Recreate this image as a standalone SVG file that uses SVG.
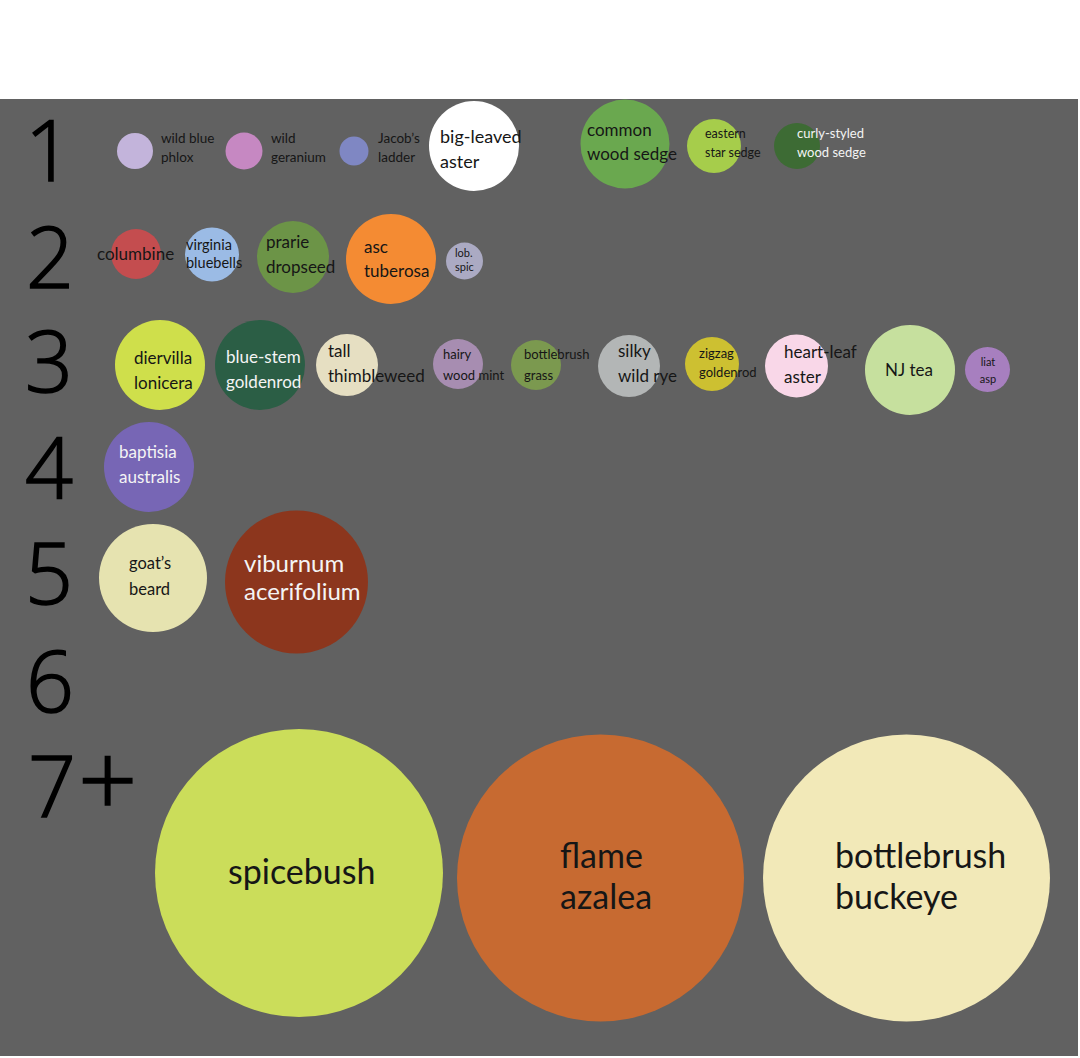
<svg xmlns="http://www.w3.org/2000/svg" width="1080" height="1058" viewBox="0 0 1080 1058">
<style>
text{font-family:Lato,"Open Sans","Liberation Sans",sans-serif;fill:#161616}
.w{fill:#f4f4f4}
.num{font-family:"Open Sans","Noto Sans","Liberation Sans",sans-serif;font-weight:300;font-size:84px;fill:#000;stroke:#000;stroke-width:1.6px;text-anchor:middle}
.s11{font-size:11px}.s12{font-size:12.5px}.s13{font-size:13px}.s135{font-size:13.5px}.s145{font-size:14.5px}
.s165{font-size:16.5px}.s17{font-size:17px}.s18{font-size:18px}.s24{font-size:24px}.s34{font-size:34px}
</style>
<rect x="0" y="0" width="1080" height="1058" fill="#ffffff"/>
<rect x="0" y="99" width="1078" height="957" fill="#616161"/>
<g id="row-labels">
<text class="num" x="49" y="181">1</text>
<text class="num" x="50" y="288">2</text>
<text class="num" x="49" y="392">3</text>
<text class="num" x="49" y="498">4</text>
<text class="num" x="49" y="604">5</text>
<text class="num" x="50" y="712">6</text>
<text class="num" x="28" y="817" style="text-anchor:start">7<tspan dx="2" font-size="104">+</tspan></text>
</g>
<g id="connectors"></g>
<!-- row 1 -->
<g id="wild-blue-phlox"><circle cx="135" cy="151" r="18" fill="#c3b4db"/><text class="s135" x="161" y="143">wild blue</text><text class="s135" x="161" y="162">phlox</text></g>
<g id="wild-geranium"><circle cx="244" cy="151" r="18.5" fill="#c688c2"/><text class="s135" x="271" y="143">wild</text><text class="s135" x="271" y="162">geranium</text></g>
<g id="jacobs-ladder"><circle cx="354" cy="151" r="14.5" fill="#7f87c3"/><text class="s135" x="378" y="143">Jacob’s</text><text class="s135" x="378" y="162">ladder</text></g>
<g id="big-leaved-aster"><circle cx="474" cy="146" r="45" fill="#ffffff"/><text class="s18" x="440" y="143">big-leaved</text><text class="s18" x="440" y="168">aster</text></g>
<g id="common-wood-sedge"><circle cx="625" cy="144" r="44.5" fill="#6aa84f"/><text class="s17" x="587" y="136">common</text><text class="s17" x="587" y="160">wood sedge</text></g>
<g id="eastern-star-sedge"><circle cx="714" cy="146" r="27" fill="#a6cd4b"/><text class="s12" x="705" y="138">eastern</text><text class="s12" x="705" y="157">star sedge</text></g>
<g id="curly-styled-wood-sedge"><circle cx="797" cy="146" r="23" fill="#3d6b34"/><text class="s13 w" x="797" y="138">curly-styled</text><text class="s13 w" x="797" y="157">wood sedge</text></g>
<!-- row 2 -->
<g id="columbine"><circle cx="136" cy="254" r="25" fill="#c44d4f"/><text class="s17" x="97" y="260">columbine</text></g>
<g id="virginia-bluebells"><circle cx="212" cy="254.5" r="27" fill="#9bbbe5"/><text class="s145" x="186" y="250">virginia</text><text class="s145" x="186" y="268">bluebells</text></g>
<g id="prarie-dropseed"><circle cx="293" cy="257" r="36" fill="#6c9447"/><text class="s17" x="266" y="248">prarie</text><text class="s17" x="266" y="273">dropseed</text></g>
<g id="asc-tuberosa"><circle cx="391" cy="259" r="45" fill="#f48b33"/><text class="s17" x="364" y="253">asc</text><text class="s17" x="364" y="277">tuberosa</text></g>
<g id="lob-spic"><circle cx="464.5" cy="261" r="18.5" fill="#abaac3"/><text class="s11" x="455" y="257">lob.</text><text class="s11" x="455" y="271">spic</text></g>
<!-- row 3 -->
<g id="diervilla-lonicera"><circle cx="160" cy="365" r="45" fill="#cfdf4b"/><text class="s17" x="134" y="364">diervilla</text><text class="s17" x="134" y="389">lonicera</text></g>
<g id="blue-stem-goldenrod"><circle cx="260" cy="365" r="45" fill="#2b5e45"/><text class="s17 w" x="226" y="363">blue-stem</text><text class="s17 w" x="226" y="388">goldenrod</text></g>
<g id="tall-thimbleweed"><circle cx="347" cy="365" r="31" fill="#e6dfc2"/><text class="s17" x="328" y="357">tall</text><text class="s17" x="328" y="382">thimbleweed</text></g>
<g id="hairy-wood-mint"><circle cx="458" cy="364" r="25" fill="#a78db1"/><text class="s13" x="443" y="359">hairy</text><text class="s13" x="443" y="380">wood mint</text></g>
<g id="bottlebrush-grass"><circle cx="536" cy="365" r="25" fill="#7b994f"/><text class="s13" x="524" y="359">bottlebrush</text><text class="s13" x="524" y="380">grass</text></g>
<g id="silky-wild-rye"><circle cx="629" cy="366" r="31" fill="#b3b6b6"/><text class="s17" x="618" y="357">silky</text><text class="s17" x="618" y="382">wild rye</text></g>
<g id="zigzag-goldenrod"><circle cx="712" cy="364" r="27" fill="#cdc031"/><text class="s13" x="699" y="358">zigzag</text><text class="s13" x="699" y="377">goldenrod</text></g>
<g id="heart-leaf-aster"><circle cx="796.5" cy="366" r="31.5" fill="#f9d7e8"/><text class="s17" x="784" y="358">heart-leaf</text><text class="s17" x="784" y="383">aster</text></g>
<g id="nj-tea"><circle cx="910" cy="370" r="45" fill="#c6e09e"/><text class="s17" x="885" y="376">NJ tea</text></g>
<g id="liat-asp"><circle cx="987.5" cy="369.5" r="22.5" fill="#a77fbf"/><text class="s11" x="988" y="366" text-anchor="middle">liat</text><text class="s11" x="988" y="383" text-anchor="middle">asp</text></g>
<!-- row 4 -->
<g id="baptisia-australis"><circle cx="149" cy="467" r="45" fill="#7766b5"/><text class="s17 w" x="119" y="458">baptisia</text><text class="s17 w" x="119" y="483">australis</text></g>
<!-- row 5 -->
<g id="goats-beard"><circle cx="153" cy="578" r="54" fill="#e6e3b0"/><text class="s165" x="129" y="569">goat’s</text><text class="s165" x="129" y="595">beard</text></g>
<g id="viburnum-acerifolium"><circle cx="296.5" cy="582" r="71.5" fill="#8c361d"/><text class="s24 w" x="244" y="572">viburnum</text><text class="s24 w" x="244" y="600">acerifolium</text></g>
<!-- row 7+ -->
<g id="spicebush"><circle cx="299" cy="873" r="144" fill="#cbdd5a"/><text class="s34" x="228" y="884">spicebush</text></g>
<g id="flame-azalea"><circle cx="600.5" cy="878" r="143.5" fill="#c76a31"/><text class="s34" x="560" y="868">flame</text><text class="s34" x="560" y="909">azalea</text></g>
<g id="bottlebrush-buckeye"><circle cx="906.5" cy="878" r="143.5" fill="#f2e9b8"/><text class="s34" x="835" y="868">bottlebrush</text><text class="s34" x="835" y="909">buckeye</text></g>
</svg>
